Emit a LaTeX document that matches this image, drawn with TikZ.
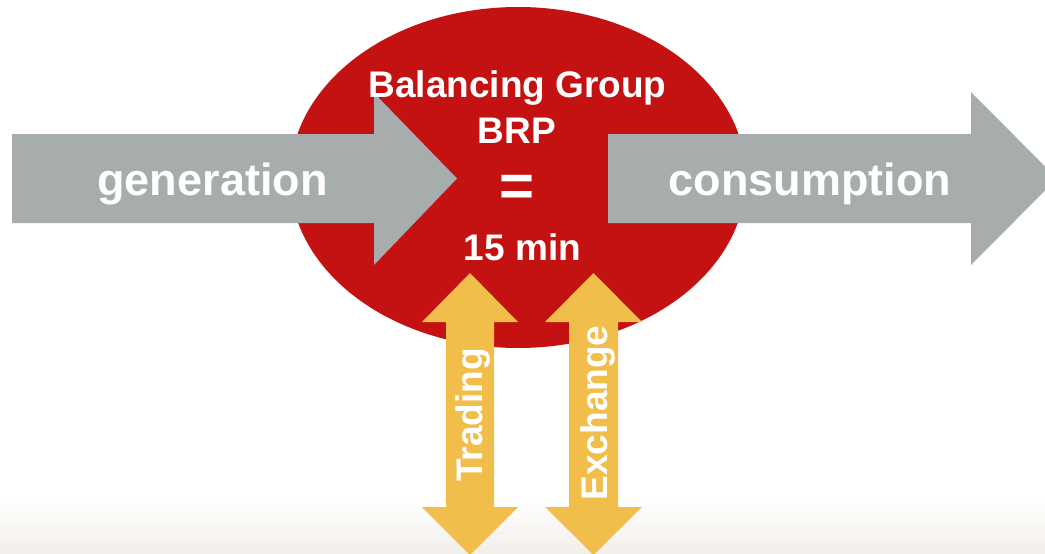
\documentclass[tikz,border=0pt]{standalone}
\usepackage{fontspec}
\setmainfont{Liberation Sans}
\definecolor{brpred}{HTML}{C41111}
\definecolor{flowgray}{HTML}{A7ADAC}
\definecolor{tradeyellow}{HTML}{F2BE4B}
\definecolor{floorbeige}{HTML}{F2EEE9}
\tikzset{
  label37/.style={text=white, inner sep=0pt, font=\fontsize{37}{42}\selectfont\bfseries},
  label45/.style={text=white, inner sep=0pt, font=\fontsize{45}{52}\selectfont\bfseries},
  flowarrow/.style={fill=flowgray, draw=none},
  tradearrow/.style={fill=tradeyellow, draw=none},
}
\begin{document}
\begin{tikzpicture}[x=1pt, y=-1pt]
  \useasboundingbox (0,0) rectangle (1045,554);
  \clip (0,0) rectangle (1045,554);
  % page background with a soft floor tint
  \fill[white] (0,0) rectangle (1045,554);
  \fill[top color=white, bottom color=floorbeige] (0,500) rectangle (1045,554);

  % balancing group
  \fill[brpred] (518,177.5) ellipse [x radius=228, y radius=170.5];

  % two-way trading / exchange arrows
  \fill[tradearrow] (470,273) -- (518,322) -- (494,322) -- (494,507) -- (518,507)
     -- (470,555) -- (422,507) -- (446,507) -- (446,322) -- (422,322) -- cycle;
  \fill[tradearrow] (593.5,273) -- (642,322) -- (618,322) -- (618,507) -- (642,507)
     -- (593.5,555) -- (545,507) -- (569,507) -- (569,322) -- (545,322) -- cycle;

  % generation in, consumption out
  \fill[flowarrow] (12,134) -- (374,134) -- (374,93) -- (457,178.5) -- (374,265)
     -- (374,223) -- (12,223) -- cycle;
  \fill[flowarrow] (608,134) -- (971,134) -- (971,92) -- (1057,178.5) -- (971,265)
     -- (971,223) -- (608,223) -- cycle;

  % labels
  \node[label45, anchor=base] (gen) at (212.5,195) {generation};
  \node[label45, anchor=base] (cons) at (810,195) {consumption};
  \node[label37, anchor=base] (bg) at (517.5,97) {Balancing Group};
  \node[label37, anchor=base] (brp) at (517,143) {BRP};
  \node[text=white, inner sep=0pt, anchor=base,
        font=\fontsize{60}{66}\selectfont\bfseries] (eq) at (517,206) {=};
  \node[label37, anchor=base] (min) at (522.5,260) {15 min};
  \node[label37, anchor=base, rotate=90] (trade) at (482,415) {Trading};
  \node[label37, anchor=base, rotate=90] (exch) at (607,413) {Exchange};
\end{tikzpicture}
\end{document}
